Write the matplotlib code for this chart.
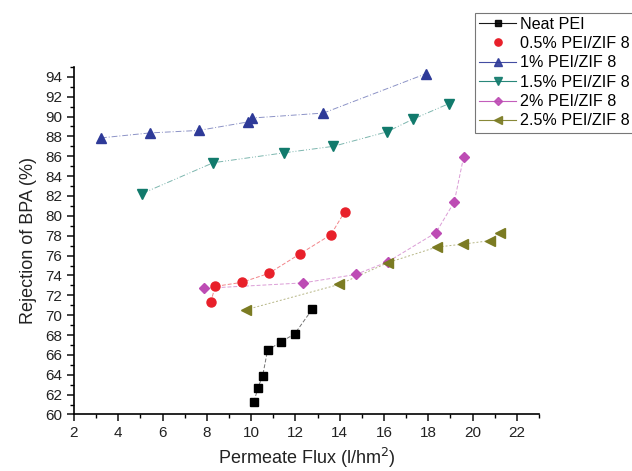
import numpy as np
import matplotlib
matplotlib.use("Agg")
import matplotlib.pyplot as plt
from matplotlib.ticker import MultipleLocator

plt.rcParams['font.family'] = ['Liberation Sans', 'DejaVu Sans']

# flux (l/hm2) and BPA rejection (%) per membrane
neat_x = [10.13, 10.31, 10.52, 10.74, 11.33, 11.96, 12.76]
neat_y = [61.3, 62.7, 63.9, 66.45, 67.3, 68.1, 70.6]

zif05_x = [8.17, 8.38, 9.57, 10.79, 12.19, 13.6, 14.22]
zif05_y = [71.3, 72.9, 73.3, 74.2, 76.15, 78.1, 80.4]

zif1_x = [3.22, 5.43, 7.63, 9.84, 10.04, 13.26, 17.88]
zif1_y = [87.85, 88.35, 88.6, 89.45, 89.85, 90.35, 94.3]

zif15_x = [5.08, 8.29, 11.5, 13.71, 16.12, 17.32, 18.93]
zif15_y = [82.25, 85.35, 86.35, 87.0, 88.45, 89.75, 91.3]

zif2_x = [7.88, 12.35, 14.73, 16.19, 18.34, 19.17, 19.59]
zif2_y = [72.7, 73.25, 74.1, 75.4, 78.3, 81.4, 85.9]

zif25_x = [9.77, 13.98, 16.19, 18.37, 19.55, 20.78, 21.23]
zif25_y = [70.55, 73.1, 75.3, 76.85, 77.15, 77.5, 78.3]

labels = ['Neat PEI', '0.5% PEI/ZIF 8', '1% PEI/ZIF 8',
          '1.5% PEI/ZIF 8', '2% PEI/ZIF 8', '2.5% PEI/ZIF 8']

fig = plt.figure(figsize=(6.32, 4.71), dpi=100)
ax = fig.add_axes([0.117, 0.120, 0.736, 0.738])

series = [
    (neat_x, neat_y, 'black', 's', 5.5, (0, (4, 2))),
    (zif05_x, zif05_y, '#e8202a', 'o', 6.5, (0, (4, 2))),
    (zif1_x, zif1_y, '#2e3a98', '^', 7.5, (0, (6, 2, 1, 2))),
    (zif15_x, zif15_y, '#117a6c', 'v', 7.5, (0, (6, 2, 1, 2, 1, 2))),
    (zif2_x, zif2_y, '#bd4cb4', 'D', 5.5, (0, (4, 2))),
    (zif25_x, zif25_y, '#7b7b22', '<', 7.5, (0, (2, 2))),
]

handles = []
for (xs, ys, c, m, ms, ls), lab in zip(series, labels):
    ax.plot(xs, ys, color=c, lw=0.7, ls=ls, alpha=0.55, zorder=2)
    ax.plot(xs, ys, ls='none', marker=m, ms=ms, color=c, zorder=3)
    # legend entries use plain lines with smaller markers
    if lab == '0.5% PEI/ZIF 8':
        h, = ax.plot([], [], ls='none', marker=m, ms=ms * 0.8, color=c)
    else:
        h, = ax.plot([], [], color=c, lw=0.8, alpha=0.9, marker=m, ms=ms * 0.8)
    handles.append(h)

ax.set_xlim(2, 23)
ax.set_ylim(60, 95)
ax.xaxis.set_minor_locator(MultipleLocator(1))
ax.yaxis.set_minor_locator(MultipleLocator(1))
ax.set_xticks(np.arange(2, 23, 2))
ax.set_yticks(np.arange(60, 95, 2))
ax.tick_params(which='major', direction='out', length=5, width=1.2,
               labelsize=11, colors='#222222')
ax.tick_params(which='minor', direction='out', length=3, width=1.0)
for side in ('top', 'right'):
    ax.spines[side].set_visible(False)
for side in ('left', 'bottom'):
    ax.spines[side].set_linewidth(1.2)

ax.set_xlabel('Permeate Flux (l/hm$^2$)', fontsize=13, color='#222222', labelpad=4)
ax.set_ylabel('Rejection of BPA (%)', fontsize=13, color='#222222', labelpad=6)

leg = fig.legend(handles, labels, loc='upper left', bbox_to_anchor=(0.7516, 0.973),
                 fontsize=11.6, frameon=True, fancybox=False, edgecolor='#555555',
                 handlelength=2.3, handletextpad=0.25, borderpad=0.25,
                 labelspacing=0.27, borderaxespad=0)
leg.get_frame().set_linewidth(0.8)

fig.savefig('out.png', dpi=100)
